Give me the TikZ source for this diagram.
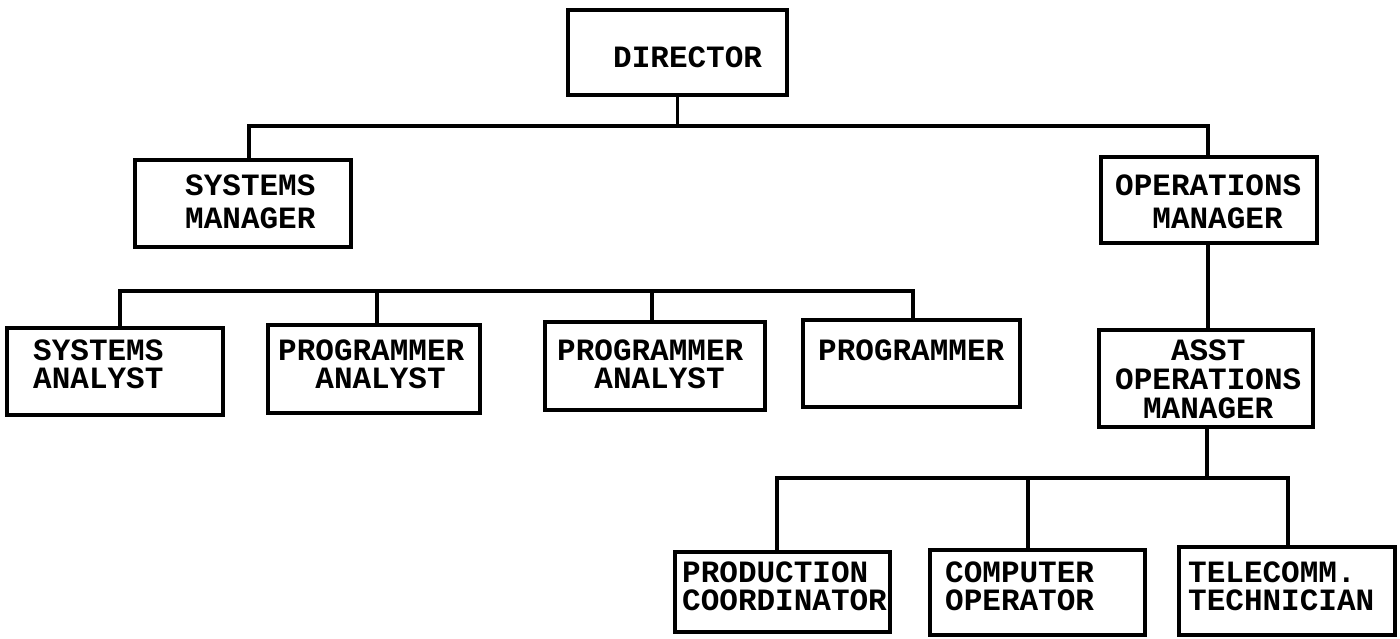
\documentclass[tikz,border=0pt]{standalone}
\usepackage{fontspec}
\setmonofont{Liberation Mono}
\begin{document}
\begin{tikzpicture}[x=1pt, y=-1pt,
  box/.style={draw, line width=3.2pt, inner sep=0pt},
  wire/.style={line width=3.6pt, line cap=rect},
  lbl/.style={anchor=north west, inner sep=0pt, align=left,
    font=\ttfamily\bfseries\fontsize{31}{33}\selectfont},
  lbltight/.style={lbl, font=\ttfamily\bfseries\fontsize{31}{28}\selectfont}]
\useasboundingbox (0,0) rectangle (1400,638);

% boxes
\node[box, minimum width=219pt, minimum height=85pt] (dir)  at (677.5,52.5) {};
\node[box, minimum width=216pt, minimum height=87pt] (sm)   at (243,203.5) {};
\node[box, minimum width=216pt, minimum height=86pt] (om)   at (1209,200) {};
\node[box, minimum width=214pt, minimum height=97pt] (asst) at (1206,378.5) {};
\node[box, minimum width=216pt, minimum height=87pt] (sa)   at (115,371.5) {};
\node[box, minimum width=212pt, minimum height=88pt] (pa1)  at (374,369) {};
\node[box, minimum width=220pt, minimum height=88pt] (pa2)  at (655,366) {};
\node[box, minimum width=217pt, minimum height=87pt] (pg)   at (911.5,363.5) {};
\node[box, minimum width=215pt, minimum height=80pt] (pc)   at (782.5,592) {};
\node[box, minimum width=215pt, minimum height=85pt] (co)   at (1037.5,592.5) {};
\node[box, minimum width=216pt, minimum height=88pt] (tc)   at (1287,591) {};

% labels
\node[lbl] (t-dir)  at (613,47)  {DIRECTOR};
\node[lbl] (t-sm)   at (185,175) {SYSTEMS\\MANAGER};
\node[lbl] (t-om)   at (1115,175) {OPERATIONS\\\hspace*{1.2em}MANAGER};
\node[lbl, font=\ttfamily\bfseries\fontsize{31}{29}\selectfont] (t-asst) at (1115,340)
  {\hspace*{1.8em}ASST\\OPERATIONS\\\hspace*{0.9em}MANAGER};
\node[lbltight] (t-sa)  at (33,340)  {SYSTEMS\\ANALYST};
\node[lbltight] (t-pa1) at (278,340) {PROGRAMMER\\\hspace*{1.2em}ANALYST};
\node[lbltight] (t-pa2) at (557,340) {PROGRAMMER\\\hspace*{1.2em}ANALYST};
\node[lbltight] (t-pg)  at (818,340) {PROGRAMMER};
\node[lbltight] (t-pc)  at (682,562) {PRODUCTION\\COORDINATOR};
\node[lbltight] (t-co)  at (945,562) {COMPUTER\\OPERATOR};
\node[lbltight] (t-tc)  at (1188,562) {TELECOMM.\\TECHNICIAN};

% bus points
\coordinate (b1l) at (249,126);
\coordinate (b1m) at (677.5,126);
\coordinate (b1r) at (1208,126);
\coordinate (b2a) at (120,291);
\coordinate (b2b) at (377,291);
\coordinate (b2c) at (652,291);
\coordinate (b2d) at (913,291);
\coordinate (b3m) at (1207,478);
\coordinate (b3a) at (777,478);
\coordinate (b3b) at (1028,478);
\coordinate (b3c) at (1288,478);

% director level
\draw[wire] (dir.south) -- (b1m);
\draw[wire] (sm.north -| b1l) -- (b1l) -- (b1r) -- (om.north -| b1r);
\draw[wire] (om.south -| b1r) -- (asst.north -| b1r);

% systems staff
\draw[wire] (sa.north -| b2a) -- (b2a) -- (b2d) -- (pg.north -| b2d);
\draw[wire] (b2b) -- (pa1.north -| b2b);
\draw[wire] (b2c) -- (pa2.north -| b2c);

% operations staff
\draw[wire] (asst.south -| b3m) -- (b3m);
\draw[wire] (pc.north -| b3a) -- (b3a) -- (b3c) -- (tc.north -| b3c);
\draw[wire] (b3b) -- (co.north -| b3b);
\end{tikzpicture}
\end{document}
